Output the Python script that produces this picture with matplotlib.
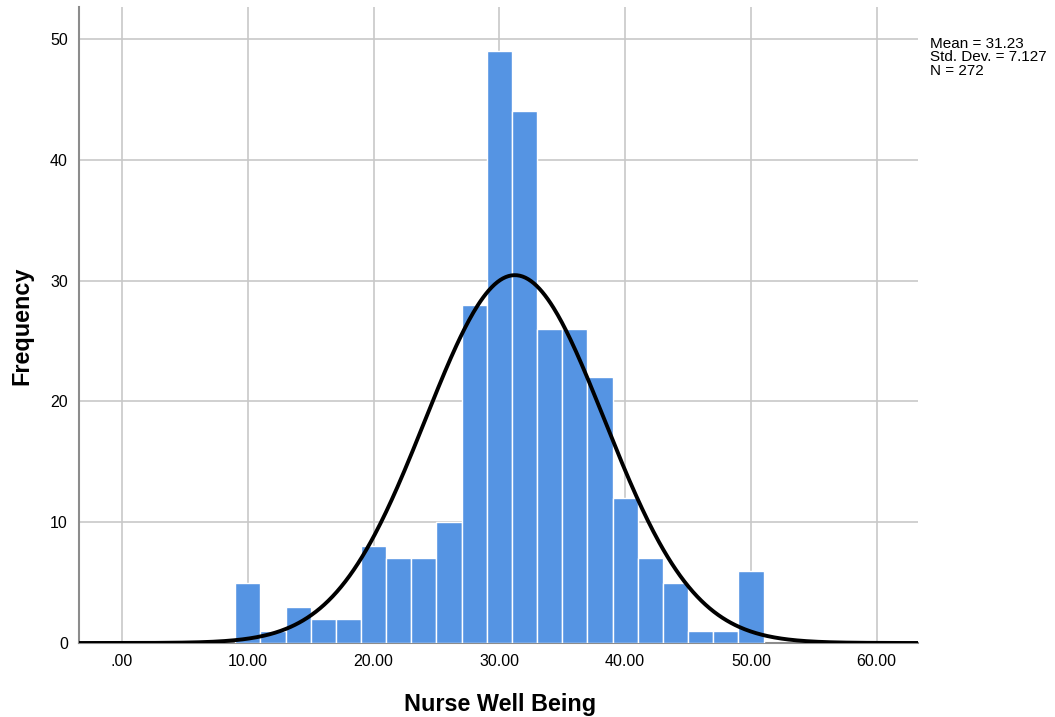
import numpy as np
import matplotlib
matplotlib.use('Agg')
import matplotlib.pyplot as plt

plt.rcParams['font.family'] = ['Liberation Sans', 'DejaVu Sans']

# histogram bins (left edges) and counts
bin_left = [9, 11, 13, 15, 17, 19, 21, 23, 25, 27, 29, 31, 33, 35, 37, 39, 41, 43, 45, 47, 49]
counts = [5, 1, 3, 2, 2, 8, 7, 7, 10, 28, 49, 44, 26, 26, 22, 12, 7, 5, 1, 1, 6]
bin_width = 2

mean_val = 31.23
sd_val = 7.127
n_val = 272

x_ticks = [0, 10, 20, 30, 40, 50, 60]
x_labels = ['.00', '10.00', '20.00', '30.00', '40.00', '50.00', '60.00']
y_ticks = [0, 10, 20, 30, 40, 50]

fig = plt.figure(figsize=(10.55, 7.17), dpi=100)
ax = fig.add_axes([79/1055, (717-643)/717, (918-79)/1055, (643-7)/717])

ax.bar(bin_left, counts, width=bin_width, align='edge', color='#5594e3',
       edgecolor='white', linewidth=1.0, zorder=3)

# fitted normal curve from the reported mean / sd / N
xs = np.linspace(-3.5, 63.5, 600)
ys = n_val * bin_width / (sd_val * np.sqrt(2*np.pi)) * np.exp(-0.5*((xs-mean_val)/sd_val)**2)
ax.plot(xs, ys, color='black', linewidth=2.8, zorder=4, solid_capstyle='butt')

ax.set_xlim(-3.42, 63.28)
ax.set_ylim(0, 52.65)
ax.set_xticks(x_ticks)
ax.set_xticklabels(x_labels)
ax.set_yticks(y_ticks)
ax.tick_params(length=0, labelsize=11.5, pad=8)
ax.grid(True, color='#c8c8c8', linewidth=1.2, zorder=0)
ax.set_axisbelow(True)

for s in ['top', 'right']:
    ax.spines[s].set_visible(False)
ax.spines['left'].set_color('#8c8c8c')
ax.spines['left'].set_linewidth(1.5)
ax.spines['bottom'].set_color('#8c8c8c')
ax.spines['bottom'].set_linewidth(1.5)

fig.text(500/1055, 1-704/717, 'Nurse Well Being', ha='center', va='center',
         fontsize=16.8, fontweight='bold')
fig.text(22/1055, 1-326/717, 'Frequency', ha='center', va='center',
         fontsize=16.8, fontweight='bold', rotation=90)

fig.text(930/1055, 1-37/717, 'Mean = 31.23\nStd. Dev. = 7.127\nN = 272',
         ha='left', va='top', fontsize=11, linespacing=0.95)

fig.savefig('out.png', dpi=100)
